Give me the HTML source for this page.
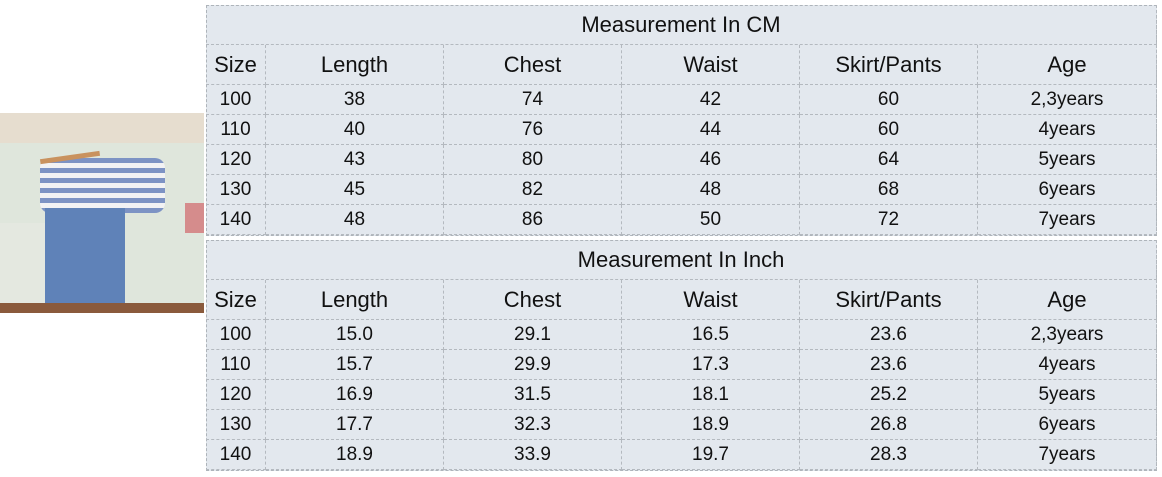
<!DOCTYPE html>
<html><head><meta charset="utf-8"><style>
body{margin:0;width:1162px;height:477px;background:#fff;position:relative;overflow:hidden;font-family:"Liberation Sans",Arial,sans-serif;color:#111}
.t{position:absolute;left:206px;width:951px;background:#e3e8ee;border:1px dashed #aeb4ba;box-sizing:border-box}
.c{position:absolute;box-sizing:border-box;border-right:1px dashed #b4b9bf;border-bottom:1px dashed #b4b9bf;display:flex;align-items:center;justify-content:center;padding-top:1px}
.ti{font-size:22px}
.h{font-size:22px}
.d{font-size:19px}
</style></head><body>
<div style="position:absolute;left:0;top:113px;width:204px;height:200px;background:#dfe6dc;overflow:hidden">
 <div style="position:absolute;left:0;top:0;width:204px;height:30px;background:#e6ddcf"></div>
 <div style="position:absolute;left:0;top:110px;width:50px;height:90px;background:#e4e8e0"></div>
 <div style="position:absolute;left:40px;top:45px;width:125px;height:55px;background:repeating-linear-gradient(#7d93c4 0 5px,#f2f2f4 5px 10px);border-radius:10px"></div>
 <div style="position:absolute;left:45px;top:95px;width:80px;height:100px;background:#5f82b8"></div>
 <div style="position:absolute;left:40px;top:42px;width:60px;height:5px;background:#c9925e;transform:rotate(-8deg)"></div>
 <div style="position:absolute;left:185px;top:90px;width:19px;height:30px;background:#d58c8c"></div>
 <div style="position:absolute;left:0;top:190px;width:204px;height:10px;background:#8a5a3c"></div>
</div>
<div id="a"></div>
<script>
const cols=[206,266,444,622,800,978,1157];
function table(top,title,rows){
 let h='<div class="t" style="top:'+top+'px;height:'+(230+1)+'px"></div>';
 h+='<div class="c ti" style="left:206px;top:'+top+'px;width:951px;height:40px">'+title+'</div>';
 const hdr=['Size','Length','Chest','Waist','Skirt/Pants','Age'];
 let y=top+40;
 hdr.forEach((t,i)=>{h+='<div class="c h" style="left:'+cols[i]+'px;top:'+y+'px;width:'+(cols[i+1]-cols[i])+'px;height:40px">'+t+'</div>'});
 y+=40;
 rows.forEach(r=>{r.forEach((t,i)=>{h+='<div class="c d" style="left:'+cols[i]+'px;top:'+y+'px;width:'+(cols[i+1]-cols[i])+'px;height:30px">'+t+'</div>'});y+=30;});
 return h;
}
const ages=['2,3years','4years','5years','6years','7years'];
const cm=[[100,38,74,42,60],[110,40,76,44,60],[120,43,80,46,64],[130,45,82,48,68],[140,48,86,50,72]].map((r,i)=>r.concat(ages[i]));
const inch=[[100,'15.0','29.1','16.5','23.6'],[110,'15.7','29.9','17.3','23.6'],[120,'16.9','31.5','18.1','25.2'],[130,'17.7','32.3','18.9','26.8'],[140,'18.9','33.9','19.7','28.3']].map((r,i)=>r.concat(ages[i]));
document.getElementById('a').innerHTML=table(5,'Measurement In CM',cm)+table(240,'Measurement In Inch',inch);
</script>
</body></html>
